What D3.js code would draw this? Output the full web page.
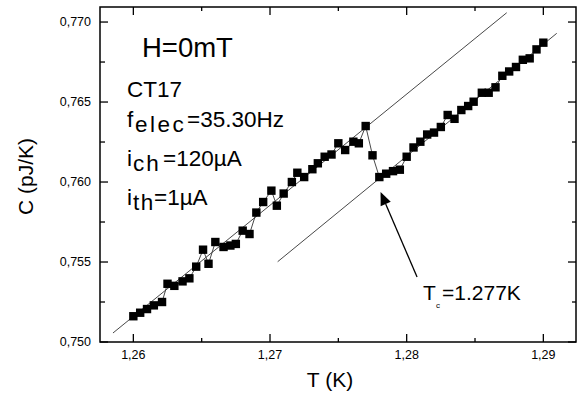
<!DOCTYPE html>
<html><head><meta charset="utf-8">
<script src="https://cdn.jsdelivr.net/npm/d3@7"></script>
<style>body{margin:0;background:#fff}svg{display:block}text{font-family:"Liberation Sans",Arial,sans-serif;fill:#000}</style>
</head><body>
<script>
const temps = [1.2600,1.2605,1.2610,1.2615,1.2621,1.2625,1.2630,1.2636,1.2641,1.2646,1.2651,1.2655,1.2660,1.2666,1.2671,1.2675,1.2680,1.2685,1.2690,1.2695,1.2701,1.2705,1.2710,1.2716,1.2720,1.2725,1.2731,1.2735,1.2740,1.2745,1.2750,1.2755,1.2761,1.2765,1.2770,1.2775,1.2780,1.2785,1.2790,1.2795,1.2800,1.2805,1.2810,1.2815,1.2820,1.2825,1.2830,1.2835,1.2840,1.2845,1.2849,1.2855,1.2860,1.2865,1.2870,1.2875,1.2880,1.2885,1.2890,1.2895,1.2900];
const heatCap = [0.75161,0.75183,0.75206,0.75229,0.75250,0.75364,0.75351,0.75379,0.75398,0.75471,0.75577,0.75489,0.75625,0.75594,0.75603,0.75613,0.75696,0.75675,0.75809,0.75875,0.75946,0.75852,0.75928,0.76000,0.76058,0.76031,0.76080,0.76117,0.76158,0.76172,0.76242,0.76200,0.76252,0.76242,0.76350,0.76167,0.76031,0.76052,0.76068,0.76077,0.76158,0.76216,0.76252,0.76297,0.76309,0.76344,0.76419,0.76395,0.76450,0.76475,0.76502,0.76558,0.76558,0.76592,0.76664,0.76691,0.76719,0.76764,0.76773,0.76829,0.76871];
const fitNormal = [[1.25851,0.750563],[1.28732,0.770581]];
const fitSuper = [[1.27056,0.755019],[1.29098,0.769294]];
const arrowTc = [[1.28076,0.75406],[1.27809,0.759375]];
const xMajor = [1.26,1.27,1.28,1.29];
const xMinor = [1.265,1.275,1.285];
const xLabels = ["1,26","1,27","1,28","1,29"];
const yMajor = [0.750,0.755,0.760,0.765,0.770];
const yMinor = [0.7525,0.7575,0.7625,0.7675];
const yLabels = ["0,750","0,755","0,760","0,765","0,770"];

const W=586,H=394, L=100,R=576,T=7,B=342;
const svg=d3.select("body").append("svg").attr("width",W).attr("height",H);
const x=d3.scaleLinear().domain([1.25756,1.29239]).range([L,R]);
const y=d3.scaleLinear().domain([0.750,0.77094]).range([B,T]);

// ticks (inward)
const g=svg.append("g").attr("stroke","#000").attr("stroke-width",1.3);
xMajor.forEach(v=>{g.append("line").attr("x1",x(v)).attr("x2",x(v)).attr("y1",B).attr("y2",B-8);
  g.append("line").attr("x1",x(v)).attr("x2",x(v)).attr("y1",T).attr("y2",T+8);});
xMinor.forEach(v=>{g.append("line").attr("x1",x(v)).attr("x2",x(v)).attr("y1",B).attr("y2",B-4);
  g.append("line").attr("x1",x(v)).attr("x2",x(v)).attr("y1",T).attr("y2",T+4);});
yMajor.forEach(v=>{g.append("line").attr("x1",L).attr("x2",L+8).attr("y1",y(v)).attr("y2",y(v));
  g.append("line").attr("x1",R).attr("x2",R-8).attr("y1",y(v)).attr("y2",y(v));});
yMinor.forEach(v=>{g.append("line").attr("x1",L).attr("x2",L+5).attr("y1",y(v)).attr("y2",y(v));
  g.append("line").attr("x1",R).attr("x2",R-4).attr("y1",y(v)).attr("y2",y(v));});
svg.append("rect").attr("x",L).attr("y",T).attr("width",R-L).attr("height",B-T)
  .attr("fill","none").attr("stroke","#000").attr("stroke-width",1.5);

xMajor.forEach((v,i)=>svg.append("text").attr("x",x(v)).attr("y",359).attr("text-anchor","middle")
  .attr("font-size",12.5).attr("fill","#222").text(xLabels[i]));
yMajor.forEach((v,i)=>svg.append("text").attr("x",91).attr("y",y(v)).attr("dy","0.35em").attr("text-anchor","end")
  .attr("font-size",12.5).attr("fill","#222").text(yLabels[i]));

svg.append("text").attr("x",330).attr("y",387).attr("text-anchor","middle").attr("font-size",21).attr("fill","#222").text("T (K)");
svg.append("text").attr("transform","translate(33,176.5) rotate(-90)").attr("text-anchor","middle")
  .attr("font-size",21).attr("fill","#333").text("C (pJ/K)");

// fit lines
[fitNormal,fitSuper].forEach(f=>svg.append("line").attr("x1",x(f[0][0])).attr("y1",y(f[0][1]))
  .attr("x2",x(f[1][0])).attr("y2",y(f[1][1])).attr("stroke","#333").attr("stroke-width",0.9));

const pts=temps.map((t,i)=>[t,heatCap[i]]);
svg.append("path").attr("d",d3.line().x(d=>x(d[0])).y(d=>y(d[1]))(pts))
  .attr("fill","none").attr("stroke","#333").attr("stroke-width",0.9);
svg.append("g").selectAll("rect").data(pts).join("rect")
  .attr("x",d=>x(d[0])-4.2).attr("y",d=>y(d[1])-4.2).attr("width",8.4).attr("height",8.4).attr("fill","#000");

// arrow
const ax0=x(arrowTc[0][0]),ay0=y(arrowTc[0][1]),ax1=x(arrowTc[1][0]),ay1=y(arrowTc[1][1]);
const ang=Math.atan2(ay1-ay0,ax1-ax0), hl=13, hw=5.5;
const bx=ax1-hl*Math.cos(ang), by=ay1-hl*Math.sin(ang);
svg.append("line").attr("x1",ax0).attr("y1",ay0).attr("x2",bx).attr("y2",by).attr("stroke","#000").attr("stroke-width",1.3);
svg.append("path").attr("d",`M${ax1},${ay1}L${bx+hw*Math.sin(ang)},${by-hw*Math.cos(ang)}L${bx-hw*Math.sin(ang)},${by+hw*Math.cos(ang)}Z`).attr("fill","#000");

// annotations
svg.append("text").attr("x",142).attr("y",57).attr("font-size",27.5).text("H=0mT");
svg.append("text").attr("x",127).attr("y",97).attr("font-size",22.5).text("CT17");
function sub(yb,a,s,b,ls,xs,xb){
  svg.append("text").attr("x",127).attr("y",yb).attr("font-size",22.5).text(a);
  svg.append("text").attr("x",xs).attr("y",yb+5).attr("font-size",22.5).attr("letter-spacing",ls).text(s);
  svg.append("text").attr("x",xb).attr("y",yb).attr("font-size",22.5).text(b);}
sub(127,"f","elec","=35.30Hz",2.5,135,187);
sub(166,"i","ch","=120µA",2,133,163);
sub(205,"i","th","=1µA",1.5,133,154);
svg.append("text").attr("x",423).attr("y",300).attr("font-size",21).text("T");
svg.append("text").attr("x",436).attr("y",308).attr("font-size",8).text("c");
svg.append("text").attr("x",442).attr("y",300).attr("font-size",21).text("=1.277K");
</script></body></html>
